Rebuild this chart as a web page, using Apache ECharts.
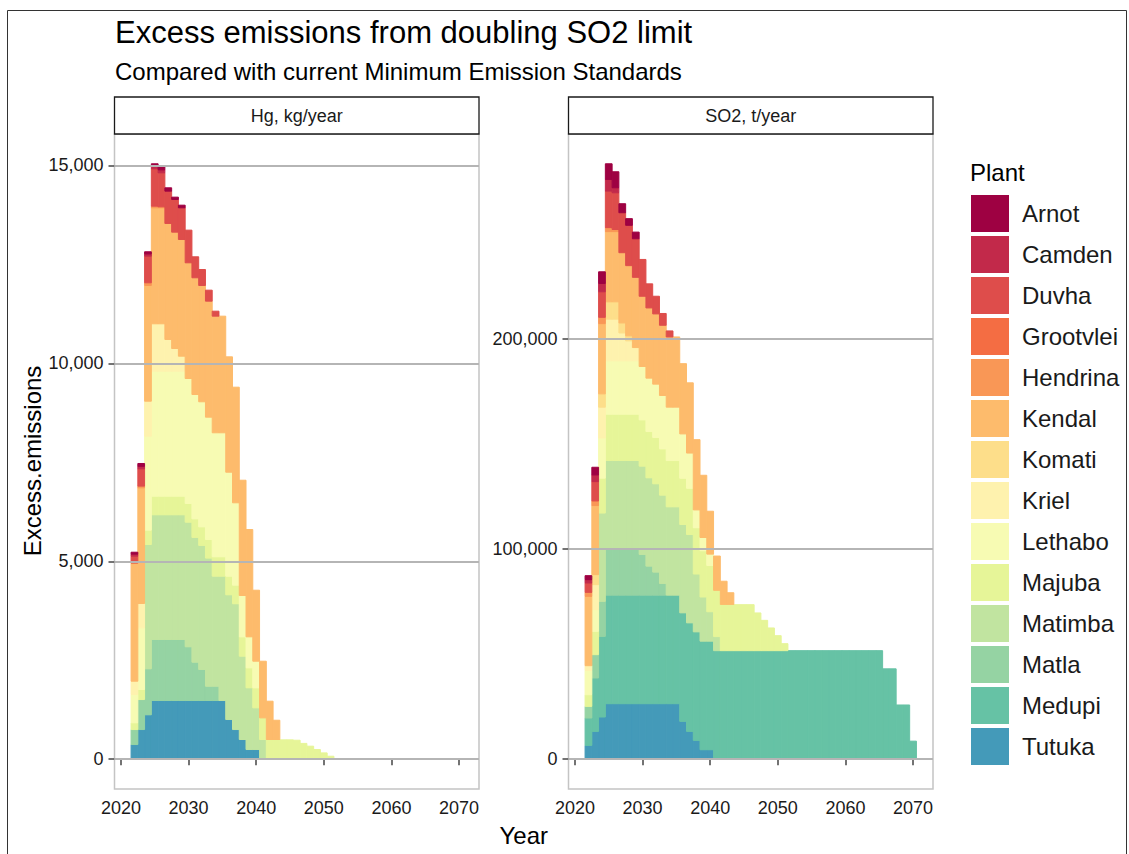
<!DOCTYPE html>
<html><head><meta charset="utf-8">
<script src="https://cdn.jsdelivr.net/npm/echarts@6/dist/echarts.min.js"></script>
<style>html,body{margin:0;padding:0;background:#fff;}#c{width:1129px;height:854px;}</style>
</head><body><div id="c"></div>
<script>
// ---- categories ----
const plants = ['Arnot','Camden','Duvha','Grootvlei','Hendrina','Kendal','Komati','Kriel','Lethabo','Majuba','Matimba','Matla','Medupi','Tutuka'];
const plantColors = ['#9E0142','#C2294A','#DE4D4B','#F46D43','#F99756','#FDBB6C','#FDDE8A','#FEF2AE','#F7FBB3','#E6F598','#C1E4A0','#95D3A3','#66C2A5','#449AB9'];
const firstYear = 2022; // index 0 of every series array below; missing entries are 0

// ---- tick labels ----
const xTicks = [2020,2030,2040,2050,2060,2070];
const hgTicks = [0,5000,10000,15000];
const so2Ticks = [0,100000,200000];

// ---- Hg, kg/year (2022, 2023, ...) ----
const hgArnot    = [50,71,55,63,77,85,59,66];
const hgCamden   = [50,63,56,63,75];
const hgDuvha    = [170,437,673,945,859,816,826,801,825,530,404,278,126];
const hgGrootvlei= [];
const hgHendrina = [16,43,68,41,25];
const hgKendal   = [2973,2923,2923,2931,2931,2931,2939,2948,2923,2949,2938,2931,2946,2946,2915,2921,2913,2711,1794,1431,968,487];
const hgKomati   = [];
const hgKriel    = [336,614,884,1197,1197,801,573,379];
const hgLethabo  = [715,1559,2374,3158,3158,3158,3158,3158,3158,3141,3159,3090,3133,3133,2627,2081,1044,783,672];
const hgMajuba   = [170,253,363,470,470,470,470,470,472,470,470,470,490,490,470,470,489,505,506,547,498,498,490,490,480,400,330,245,160,76];
const hgMatimba  = [0,0,3140,3151,3151,3151,3151,3151,3148,3152,3135,3237,2780,3141,3151,3177,2105,1559,1053,498];
const hgMatla    = [379,758,1162,1541,1541,1541,1541,1541,1357,968,783,361,361];
const hgMedupi   = [];
const hgTutuka   = [371,750,1122,1483,1483,1483,1483,1483,1483,1483,1483,1483,1483,1483,1003,750,498,245,245];

// ---- SO2, t/year (2022, 2023, ...) ----
const so2Arnot    = [1880,3650,5550,7450,7610,4280,3170,3170];
const so2Camden   = [1580,3170,3960,5550,2380];
const so2Duvha    = [4470,9200,12150,17360,17470,19020,19180,18340,17510,11460,8410,5610,2860];
const so2Grootvlei= [];
const so2Hendrina = [1900,2200,3000,1900,1000];
const so2Kendal   = [32980,32840,33400,33400,33400,33400,33400,33400,33400,33400,33400,33400,33400,33400,33400,33400,33400,29600,20400,16300,11030,5550];
const so2Komati   = [0,4760,6340,8250,8250,4760,2380];
const so2Kriel    = [2230,11890,14650,19800,19800,13250,9480,6300];
const so2Lethabo  = [11570,10310,19100,25400,25400,25400,25400,25400,25400,25400,25400,25400,25400,25400,21100,16760,8500,6300,5400];
const so2Majuba   = [5560,11100,16600,22000,22000,22000,22000,22000,22000,22000,22000,22000,22000,22000,22000,22000,22000,22000,22000,22000,22000,22000,21870,21870,21870,17940,14420,10800,7140,3330];
const so2Matimba  = [0,0,42000,42000,42000,42000,42000,42000,42000,42000,42000,42000,42000,42000,42000,42000,27500,21000,14000,6700];
const so2Matla    = [5530,11100,16650,22050,22050,22050,22050,22050,19350,13800,10950,5550];
const so2Medupi   = [13030,25410,38350,51630,51630,51630,51630,51630,51630,51630,51630,51630,51630,51630,51630,51630,51630,51630,51630,51630,51630,51630,51630,51630,51630,51630,51630,51630,51630,51630,51630,51630,51630,51630,51630,51630,51630,51630,51630,51630,51630,51630,51630,51630,43000,43000,25800,25800,8600];
const so2Tutuka   = [6570,13230,20080,26410,26410,26410,26410,26410,26410,26410,26410,26410,26410,26410,18000,13230,8950,4520,4520];

const hgData = {Arnot:hgArnot,Camden:hgCamden,Duvha:hgDuvha,Grootvlei:hgGrootvlei,Hendrina:hgHendrina,Kendal:hgKendal,Komati:hgKomati,Kriel:hgKriel,Lethabo:hgLethabo,Majuba:hgMajuba,Matimba:hgMatimba,Matla:hgMatla,Medupi:hgMedupi,Tutuka:hgTutuka};
const so2Data = {Arnot:so2Arnot,Camden:so2Camden,Duvha:so2Duvha,Grootvlei:so2Grootvlei,Hendrina:so2Hendrina,Kendal:so2Kendal,Komati:so2Komati,Kriel:so2Kriel,Lethabo:so2Lethabo,Majuba:so2Majuba,Matimba:so2Matimba,Matla:so2Matla,Medupi:so2Medupi,Tutuka:so2Tutuka};

const FONT = "'Liberation Sans', Arial, Helvetica, sans-serif";
const colorOf = {}; plants.forEach((p,i)=>colorOf[p]=plantColors[i]);

function renderItem(params, api){
  const x = api.value(0), y0 = api.value(1), y1 = api.value(2);
  const p0 = api.coord([x-0.5, y0]);
  const p1 = api.coord([x+0.5, y1]);
  const c = api.visual('color');
  return {type:'rect', shape:{x:p0[0], y:p1[1], width:p1[0]-p0[0], height:p0[1]-p1[1]},
          style:{fill:c, stroke:c, lineWidth:1}};
}

function stackSeries(data, idx){
  const len = Math.max(...plants.map(p=>data[p].length));
  const base = new Array(len).fill(0);
  const out = [];
  plants.slice().reverse().forEach(p=>{
    const vals = data[p]; const items = [];
    for(let i=0;i<len;i++){
      const v = vals[i]||0;
      if(v>0) items.push([firstYear+i, base[i], base[i]+v]);
      base[i]+=v;
    }
    out.push({type:'custom', name:p, xAxisIndex:idx, yAxisIndex:idx, renderItem,
      itemStyle:{color:colorOf[p]}, encode:{x:0, y:[1,2]}, data:items, z:3, silent:true});
  });
  return out;
}
function gridLines(ticks, idx){
  return {type:'line', xAxisIndex:idx, yAxisIndex:idx, data:[], z:1, silent:true,
    markLine:{silent:true, symbol:['none','none'], label:{show:false}, animation:false,
      lineStyle:{color:'#B5B5B5', width:2, type:'solid'},
      data:ticks.map(v=>({yAxis:v}))}};
}
const hgMax = 15043, so2Max = 283200;
const fmt = v => Number(v).toLocaleString('en-US');

function xAxis(idx){
  return {type:'value', gridIndex:idx, min:2019.05, max:2072.95,
    axisLine:{show:false}, splitLine:{show:false},
    axisTick:{show:true, length:6, customValues:xTicks, lineStyle:{color:'#444', width:1.5}},
    axisLabel:{customValues:xTicks, fontSize:18, color:'#1a1a1a', fontFamily:FONT, margin:10, formatter:v=>String(v)}};
}
function yAxis(idx, ticks, mx){
  return {type:'value', gridIndex:idx, min:-0.05*mx, max:1.05*mx,
    axisLine:{show:false}, splitLine:{show:false},
    axisTick:{show:true, length:6, customValues:ticks, lineStyle:{color:'#444', width:1.5}},
    axisLabel:{customValues:ticks, fontSize:18, color:'#1a1a1a', fontFamily:FONT, margin:11, formatter:fmt}};
}

const chart = echarts.init(document.getElementById('c'), null, {renderer:'svg'});
chart.setOption({
  animation:false,
  backgroundColor:'#fff',
  grid:[
    {left:114.5, top:134, width:364.5, height:655, show:true, borderColor:'#C4C4C4', borderWidth:1.5, backgroundColor:'#fff', containLabel:false},
    {left:568.5, top:134, width:364.5, height:655, show:true, borderColor:'#C4C4C4', borderWidth:1.5, backgroundColor:'#fff', containLabel:false}
  ],
  xAxis:[xAxis(0), xAxis(1)],
  yAxis:[yAxis(0, hgTicks, hgMax), yAxis(1, so2Ticks, so2Max)],
  legend:{orient:'vertical', left:971, top:195, padding:0, itemWidth:38, itemHeight:37, itemGap:4, icon:'rect',
    data:plants, selectedMode:false,
    textStyle:{fontSize:24, color:'#1a1a1a', fontFamily:FONT, padding:[0,0,0,8]}},
  series:[gridLines(hgTicks,0), gridLines(so2Ticks,1)].concat(stackSeries(hgData,0), stackSeries(so2Data,1)),
  graphic:[
    {type:'rect', shape:{x:7.5, y:10.5, width:1119, height:860}, style:{fill:'none', stroke:'#333', lineWidth:1}, silent:true, z:-10},
    {type:'text', x:115, y:32.5, style:{text:'Excess emissions from doubling SO2 limit', font:'31px '+FONT, fill:'#000', align:'left', verticalAlign:'middle'}},
    {type:'text', x:115, y:71, style:{text:'Compared with current Minimum Emission Standards', font:'24px '+FONT, fill:'#000', align:'left', verticalAlign:'middle'}},
    {type:'rect', shape:{x:114.5, y:97, width:364.5, height:37}, style:{fill:'#fff', stroke:'#1a1a1a', lineWidth:1.3}},
    {type:'rect', shape:{x:568.5, y:97, width:364.5, height:37}, style:{fill:'#fff', stroke:'#1a1a1a', lineWidth:1.3}},
    {type:'text', x:296.75, y:116, style:{text:'Hg, kg/year', font:'18px '+FONT, fill:'#1a1a1a', align:'center', verticalAlign:'middle'}},
    {type:'text', x:750.75, y:116, style:{text:'SO2, t/year', font:'18px '+FONT, fill:'#1a1a1a', align:'center', verticalAlign:'middle'}},
    {type:'text', x:523.8, y:835.5, style:{text:'Year', font:'24px '+FONT, fill:'#000', align:'center', verticalAlign:'middle'}},
    {type:'text', x:32, y:461, rotation:Math.PI/2, style:{text:'Excess.emissions', font:'24px '+FONT, fill:'#000', align:'center', verticalAlign:'middle'}},
    {type:'text', x:970, y:172, style:{text:'Plant', font:'24px '+FONT, fill:'#000', align:'left', verticalAlign:'middle'}}
  ]
});
</script></body></html>
